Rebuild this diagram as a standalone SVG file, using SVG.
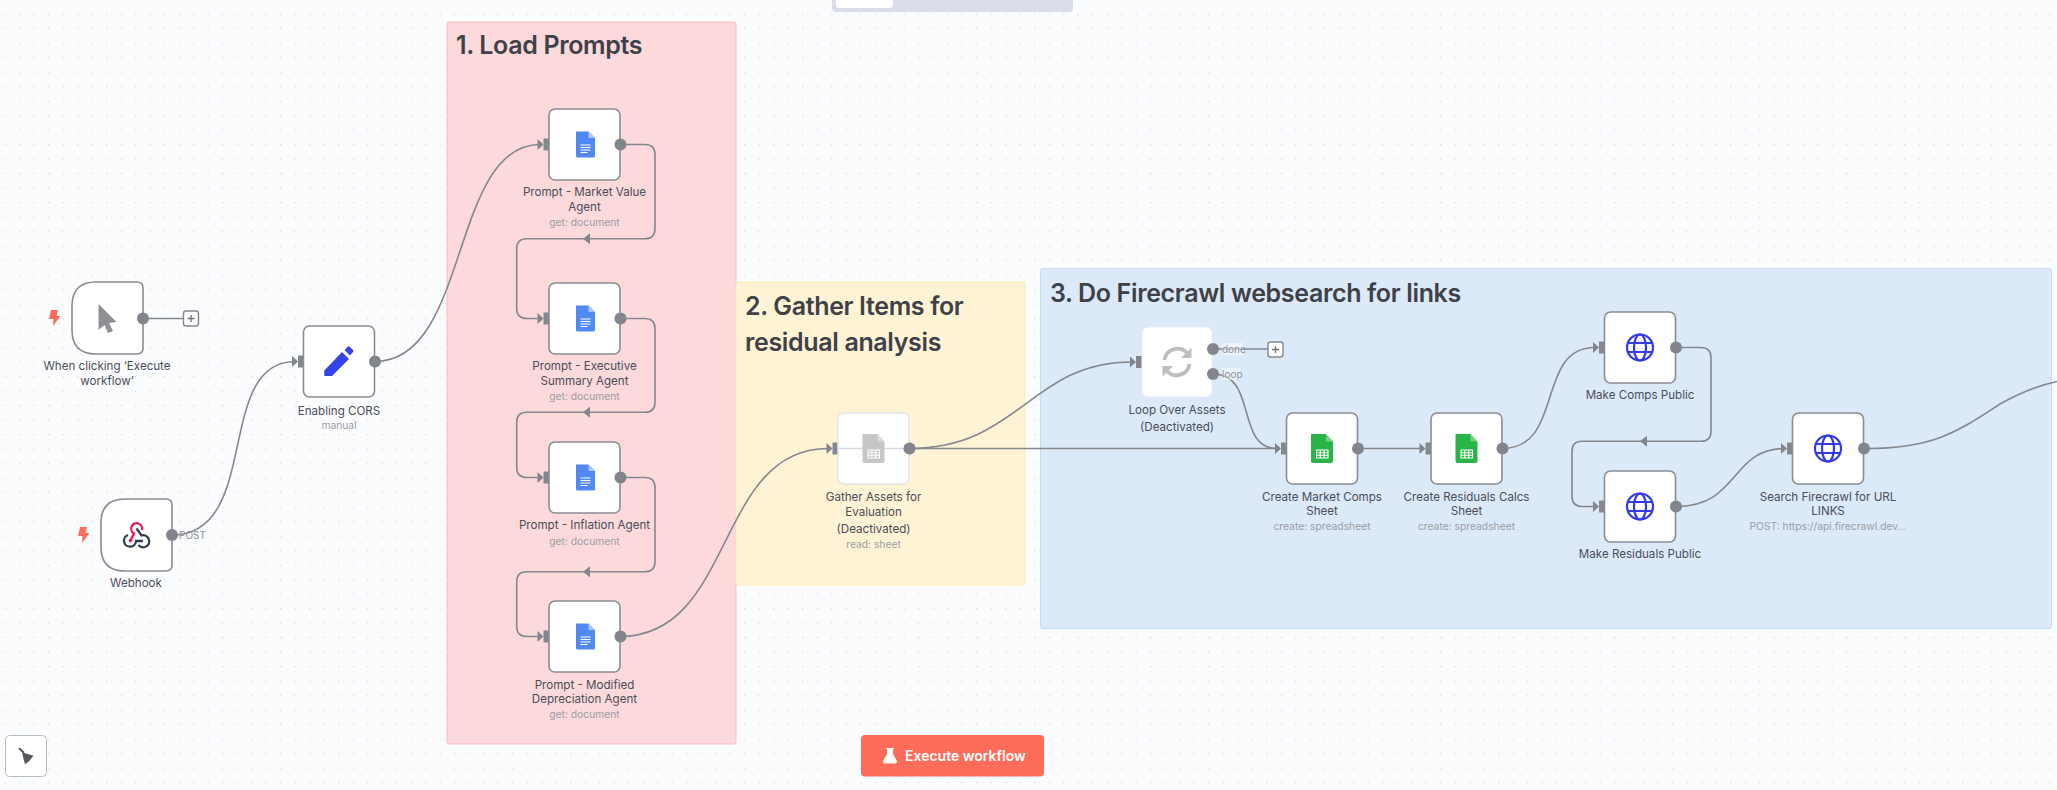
<svg xmlns="http://www.w3.org/2000/svg" width="2057" height="790" viewBox="0 0 2057 790">
<style>
text{font-family:Inter,"Liberation Sans",sans-serif}
.l{font-size:11.6px;fill:#4b4d58;text-anchor:middle}
.s{font-size:10.3px;fill:#9b9da5;text-anchor:middle}
.t{font-size:25px;font-weight:600;fill:#3f4148;letter-spacing:-.35px}
.h{font-size:10px;fill:#8f9199}
.c{fill:none;stroke:#85878e;stroke-width:1.6}
.b{fill:#fff;stroke:#8a8c93;stroke-width:1.6}
.d{fill:#fff;stroke:#e2e5ec;stroke-width:1.6}
.o{fill:#83858c}
.g{fill:none;stroke:#3239e6;stroke-width:2.2}
.p{fill:#fff;stroke:#85878e;stroke-width:1.4}
</style>
<defs>
<pattern id="dots" width="14.5" height="14.5" patternUnits="userSpaceOnUse" x="4.6" y="-0.9"><rect width="1.2" height="1.2" fill="#d3d6df"/></pattern>
<g id="in"><path d="M-11-5.500 L-5 0 L-11 5.500Z" class="o"/><rect x="-5" y="-6" width="6" height="12" fill="#85878e"/></g>
<g id="box"><rect x="-35.500" y="-35.500" width="71" height="71" rx="6" class="b"/></g>
<g id="doc"><path d="M-9.500-13 H3 L9.500-6.500 V11.500 Q9.500 13 8 13 H-8 Q-9.500 13 -9.500 11.500Z" fill="#5188f2"/><path d="M3-13 L9.500-6.500 H3Z" fill="#a9c6fa"/><path d="M-5 0.500H5M-5 3H5M-5 5.500H5M-5 8H2" stroke="#fff" stroke-width="1.100"/></g>
<g id="sheet"><path d="M-11-14.500 H4 L11-7 V12.500 Q11 14.500 9 14.500 H-9 Q-11 14.500 -11 12.500Z"/><path d="M4-14.500 L11-7 H4Z" fill="#fff" fill-opacity=".35"/><path d="M-5.500 1.500H6V9.500H-5.500Z M-5.500 4.200H6M-5.500 6.800H6M-1.700 1.500V9.500M2.200 1.500V9.500" fill="none" stroke="#fff" stroke-width="1.100"/></g>
<g id="globe"><circle r="13" class="g"/><ellipse rx="6" ry="13" class="g"/><path d="M-12-4.500H12M-12 4.500H12" class="g"/></g>
<g id="bolt"><path d="M-3.500-8 H3.500 L2-2 H6 L-1.500 8 L-1 1 H-5.500Z" fill="#ff6d5a"/></g>
<g id="plus"><rect x="-7.500" y="-7.500" width="15" height="15" rx="2.500" class="p"/><path d="M-3.500 0H3.500M0-3.500V3.500" stroke="#6f7178" stroke-width="1.300"/></g>
</defs>
<rect width="2057" height="790" fill="#fbfcfe"/>
<rect width="2057" height="790" fill="url(#dots)"/>
<g id="stickies">
<rect x="447" y="22" width="289" height="722" rx="2" fill="#fcd9db" stroke="#fbbcc0"/>
<rect x="736" y="282" width="289" height="303" rx="2" fill="#fff3d6" stroke="#fdebbb"/>
<rect x="1040.500" y="268.500" width="1011" height="360" rx="2" fill="#dce9f8" stroke="#c6dcf5"/>
<text x="456" y="54" class="t">1. Load Prompts</text>
<text x="745" y="315" class="t">2. Gather Items for</text>
<text x="745" y="351" class="t">residual analysis</text>
<text x="1050" y="302" class="t">3. Do Firecrawl websearch for links</text>
</g>
<g id="connectors">
<path class="c" d="M143 318.500H184"/>
<path class="c" d="M172 535 C262 535 214 361.500 295 361.500"/>
<path class="c" d="M375 361.500 C470 361.500 450 144.500 540 144.500"/>
<path class="c" d="M620 144.500H645Q655 144.500 655 154.500V228.700Q655 238.700 645 238.700H526.700Q516.700 238.700 516.700 248.700V308.500Q516.700 318.500 526.700 318.500H540"/>
<path class="o" d="M583 238.700L590 233.200V244.200Z"/>
<path class="c" d="M620 318.500H645Q655 318.500 655 328.500V402.300Q655 412.300 645 412.300H526.700Q516.700 412.300 516.700 422.300V467.500Q516.700 477.500 526.700 477.500H540"/>
<path class="o" d="M583 412.300L590 406.800V417.800Z"/>
<path class="c" d="M620 477.500H645Q655 477.500 655 487.500V561.700Q655 571.700 645 571.700H526.700Q516.700 571.700 516.700 581.700V626.500Q516.700 636.500 526.700 636.500H540"/>
<path class="o" d="M583 571.700L590 566.200V577.200Z"/>
<path class="c" d="M620 636.500 C735 636.500 715 448.500 828 448.500"/>
<path class="c" d="M909 448.500 C1020 448.500 1030 362 1132 362"/>
<path class="c" d="M909 448.500H1277"/>
<path class="c" d="M1213 349H1268"/>
<path class="c" d="M1213 374 C1258 374 1235 448.500 1277 448.500"/>
<path class="c" d="M1358 448.500H1421"/>
<path class="c" d="M1502 448.500 C1565 448.500 1535 347.500 1595 347.500"/>
<path class="c" d="M1676 347.500H1701Q1711 347.500 1711 357.500V431.300Q1711 441.300 1701 441.300H1582Q1572 441.300 1572 451.300V496.500Q1572 506.500 1582 506.500H1595"/>
<path class="o" d="M1640 441.300L1647 435.800V446.800Z"/>
<path class="c" d="M1676 506.500 C1740 506.500 1730 448.500 1785 448.500"/>
<path class="c" d="M1864 448.500 C1935 449 1960 430 2000 404 C2020 393 2040 385 2057 381.500"/>
</g>
<g id="n-trigger">
<use href="#bolt" x="54.500" y="318"/>
<path d="M96 282H137Q143 282 143 288V348Q143 354 137 354H96Q72 354 72 330V306Q72 282 96 282Z" class="b"/>
<path d="M98.500 304 L116.500 322 L109 323 L113 331 L108 333 L104.500 325 L98.500 330Z" fill="#8e8f93"/>
<circle cx="143" cy="318.500" r="6" class="o"/><use href="#plus" x="191" y="318.500"/>
<text x="107" y="370" class="l">When clicking ‘Execute</text><text x="107" y="385" class="l">workflow’</text>
</g>
<g id="n-webhook">
<use href="#bolt" x="83.500" y="535"/>
<path d="M125 499H166Q172 499 172 505V565Q172 571 166 571H125Q101 571 101 547V523Q101 499 125 499Z" class="b"/>
<path d="M128 535A6 6 0 1 0 136 541H143M136.500 528.500L141.500 535.500A6 6 0 1 1 138.500 545" fill="none" stroke="#2f3e4e" stroke-width="2.300"/>
<path d="M130.500 540.500L134 533.500A5.500 5.500 0 1 1 142 530" fill="none" stroke="#e8175d" stroke-width="2.300"/>
<circle cx="130.500" cy="540.500" r="1.800" fill="#e8175d"/>
<circle cx="172" cy="535" r="6" class="o"/>
<text x="192.500" y="538.500" class="h" text-anchor="middle">POST</text>
<text x="136" y="587" class="l">Webhook</text>
</g>
<g id="n-cors" transform="translate(339 361.500)">
<use href="#in" x="-36"/><use href="#box"/>
<path d="M-14.700 14.500V9L3-9.500L10-2.500L-7 14.500Z" fill="#3344e6"/><path d="M5.500-11.500L9-15Q10-15.500 11-14.500L14-11.500Q15-10.500 14-9.500L11-6Z" fill="#3344e6"/>
<circle cx="36" r="6" class="o"/>
<text y="53" class="l">Enabling CORS</text><text y="67.500" class="s">manual</text>
</g>
<g id="n-prompt1" transform="translate(584.500 144.500)">
<use href="#in" x="-36"/><use href="#box"/><use href="#doc" x="1"/><circle cx="36" r="6" class="o"/>
<text y="51.500" class="l">Prompt - Market Value</text><text y="66" class="l">Agent</text><text y="81.500" class="s">get: document</text>
</g>
<g id="n-prompt2" transform="translate(584.500 318.500)">
<use href="#in" x="-36"/><use href="#box"/><use href="#doc" x="1"/><circle cx="36" r="6" class="o"/>
<text y="51.500" class="l">Prompt - Executive</text><text y="66.500" class="l">Summary Agent</text><text y="81.500" class="s">get: document</text>
</g>
<g id="n-prompt3" transform="translate(584.500 477.500)">
<use href="#in" x="-36"/><use href="#box"/><use href="#doc" x="1"/><circle cx="36" r="6" class="o"/>
<text y="51.500" class="l">Prompt - Inflation Agent</text><text y="67.500" class="s">get: document</text>
</g>
<g id="n-prompt4" transform="translate(584.500 636.500)">
<use href="#in" x="-36"/><use href="#box"/><use href="#doc" x="1"/><circle cx="36" r="6" class="o"/>
<text y="52" class="l">Prompt - Modified</text><text y="66.500" class="l">Depreciation Agent</text><text y="81.500" class="s">get: document</text>
</g>
<g id="n-gather" transform="translate(873.500 448.500)">
<use href="#in" x="-36"/><rect x="-35.500" y="-35.500" width="71" height="71" rx="6" class="d"/>
<path d="M-35 0H35" stroke="#d6d9e0" stroke-width="1.500"/>
<use href="#sheet" fill="#c6c6c6" x="0"/><circle cx="36" r="6" class="o"/>
<text y="52.500" class="l">Gather Assets for</text><text y="67" class="l">Evaluation</text><text y="84" class="l">(Deactivated)</text><text y="99.500" class="s">read: sheet</text>
</g>
<g id="n-loop" transform="translate(1177 362)">
<use href="#in" x="-36"/><rect x="-35" y="-35" width="70" height="70" rx="6" fill="#fff" stroke="#e8edf5"/>
<g fill="none" stroke="#bdbdbd" stroke-width="3.800"><path d="M-12.500-2A13 13 0 0 1 10-9"/><path d="M12.500 2A13 13 0 0 1 -10 9"/></g>
<path d="M14.500-14.500V-4H4Z M-14.500 14.500V4H-4Z" fill="#bdbdbd"/>
<circle cx="36" cy="-13" r="6" class="o"/><circle cx="36" cy="12" r="6" class="o"/>
<text y="52" class="l">Loop Over Assets</text><text y="69" class="l">(Deactivated)</text>
</g>
<g id="n-loop-labels">
<rect x="1222" y="343" width="21" height="12" fill="#fff" fill-opacity=".5"/><rect x="1222" y="368" width="18" height="12" fill="#fff" fill-opacity=".5"/>
<text x="1222" y="352.500" class="h">done</text><text x="1222" y="377.500" class="h">loop</text>
<use href="#plus" x="1275.500" y="349.500"/>
</g>
<g id="n-market" transform="translate(1322 448.500)">
<use href="#in" x="-36"/><use href="#box"/><use href="#sheet" fill="#28b446"/><circle cx="36" r="6" class="o"/>
<text y="52.500" class="l">Create Market Comps</text><text y="66.500" class="l">Sheet</text><text y="81.500" class="s">create: spreadsheet</text>
</g>
<g id="n-residuals" transform="translate(1466.500 448.500)">
<use href="#in" x="-36"/><use href="#box"/><use href="#sheet" fill="#28b446"/><circle cx="36" r="6" class="o"/>
<text y="52.500" class="l">Create Residuals Calcs</text><text y="66.500" class="l">Sheet</text><text y="81.500" class="s">create: spreadsheet</text>
</g>
<g id="n-comps" transform="translate(1640 347.500)">
<use href="#in" x="-36"/><use href="#box"/><use href="#globe"/><circle cx="36" r="6" class="o"/>
<text y="51.500" class="l">Make Comps Public</text>
</g>
<g id="n-respublic" transform="translate(1640 506.500)">
<use href="#in" x="-36"/><use href="#box"/><use href="#globe"/><circle cx="36" r="6" class="o"/>
<text y="51.500" class="l">Make Residuals Public</text>
</g>
<g id="n-search" transform="translate(1828 448.500)">
<use href="#in" x="-36"/><use href="#box"/><use href="#globe"/><circle cx="36" r="6" class="o"/>
<text y="52.500" class="l">Search Firecrawl for URL</text><text y="66.500" class="l">LINKS</text><text y="81.500" class="s">POST: https://api.firecrawl.dev...</text>
</g>
<g id="ui">
<path d="M832 0H1073V8Q1073 12 1069 12H836Q832 12 832 8Z" fill="#d9dde8"/>
<path d="M836 0H893V5Q893 8 890 8H839Q836 8 836 5Z" fill="#fff"/>
<rect x="5.500" y="735.500" width="41" height="41" rx="4" fill="#fff" stroke="#b9bcc4"/>
<path d="M19 748.300L24 752.800" stroke="#55575e" stroke-width="2"/><path d="M22 752.300L33.500 755.700L29.300 761L25 764.300L23.300 758Z" fill="#55575e"/>
<rect x="861" y="735" width="183" height="41.500" rx="4" fill="#ff6d5a"/>
<path d="M886 748.500H894M887.500 748.500V754L883.500 761Q883 763 885 763H895Q897 763 896.500 761L892.500 754V748.500Z" fill="#fff" stroke="#fff" stroke-width="1"/>
<text x="905" y="761" font-size="14" font-weight="600" fill="#fff">Execute workflow</text>
</g>
</svg>
